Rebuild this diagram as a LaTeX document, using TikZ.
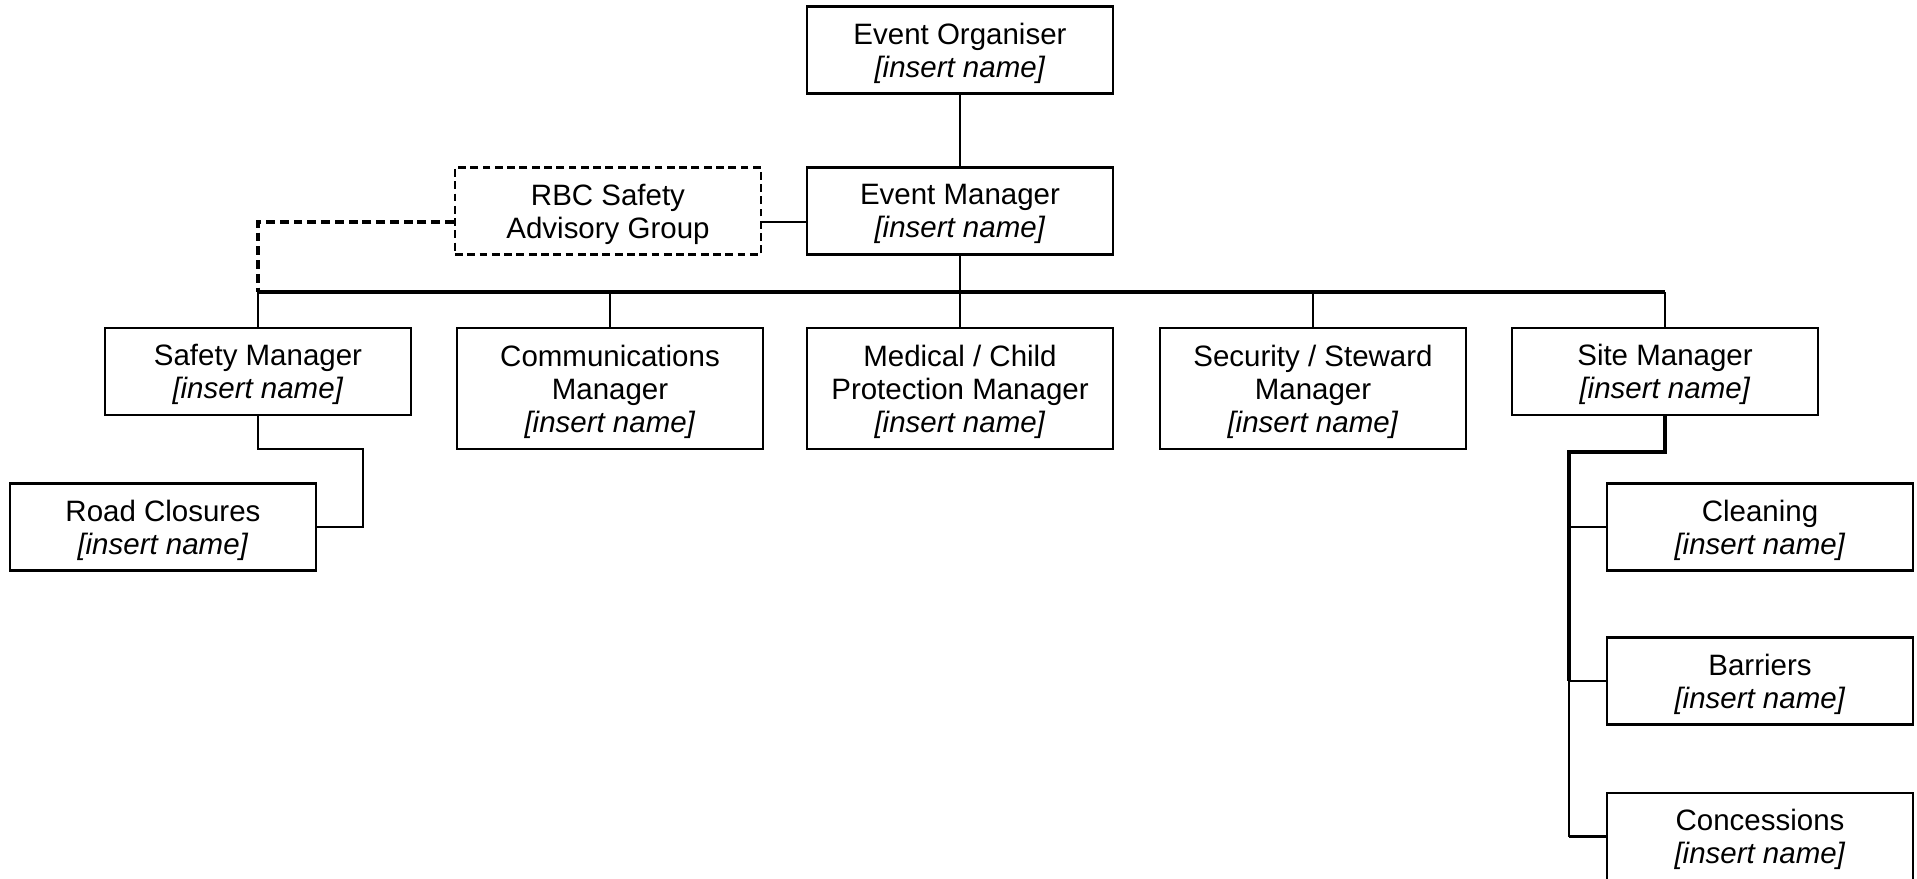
\documentclass[tikz,border=0pt]{standalone}
\usepackage{fontspec}
\setmainfont{Liberation Sans}
\usetikzlibrary{positioning, calc}

\tikzset{
    role/.style={draw, line width=1pt, minimum width=124.5pt, minimum height=35.4pt,
        inner sep=0pt, align=center, font=\fontsize{12}{13.4}\selectfont, text depth=-0.6pt},
    tallrole/.style={role, minimum height=49.2pt},
    advisory/.style={role, dash pattern=on 3.2pt off 1.8pt},
    link/.style={line width=1pt},
    busline/.style={line width=1.7pt},
}
\newcommand{\who}{\textit{[insert name]}}

\begin{document}
\begin{tikzpicture}[x=0.407pt, y=-0.407pt]
    \useasboundingbox (0,0) rectangle (1917,879);
    % top of the chart
    \node[role] (organiser) at (960,50) {Event Organiser\\\who};
    \node[role] (manager) at (960,211) {Event Manager\\\who};
    \node[advisory] (rbc) at (608,211) {RBC Safety\\Advisory Group};

    % second row
    \node[role] (safety) at (258,371.5) {Safety Manager\\\who};
    \foreach \name/\x/\txt in {comms/610/{Communications\\Manager}, medical/960/{Medical / Child\\Protection Manager}, security/1313/{Security / Steward\\Manager}}
        \node[tallrole] (\name) at (\x,388.5) {\txt\\\who};
    \node[role] (site) at (1665,371.5) {Site Manager\\\who};

    % below safety and site
    \node[role] (road) at (163,527) {Road Closures\\\who};
    \foreach \name/\y/\txt in {cleaning/527/Cleaning, barriers/681/Barriers, concessions/836.5/Concessions}
        \node[role] (\name) at (1760,\y) {\txt\\\who};

    % connectors
    \coordinate (bus) at (0,292);
    \draw[link] (organiser) -- (manager);
    \draw[link] ([yshift=-4.5pt]manager.west) -- ([yshift=-4.5pt]rbc.east);
    \draw[line width=1.3pt, dash pattern=on 3.6pt off 2pt] ([yshift=-4.5pt]rbc.west) -| (safety.north |- bus);
    \draw[busline] (safety.north |- bus) -- (site.north |- bus);
    \draw[link] (manager.south) -- (manager.south |- bus);
    \foreach \n in {safety, comms, medical, security, site}
        \draw[link] (\n.north) -- (\n.north |- bus);

    % road closures hangs off the safety manager
    \coordinate (kink) at (363,449);
    \draw[link] (safety.south) |- (kink) |- (road.east);

    % site manager spine
    \coordinate (spine) at (1569,452);
    \draw[busline] (site.south) |- (spine) -- (spine |- barriers.west);
    \draw[link] (spine |- barriers.west) -- (spine |- concessions.west);
    \foreach \n in {cleaning, barriers, concessions}
        \draw[link] (spine |- \n.west) -- (\n.west);
\end{tikzpicture}
\end{document}
